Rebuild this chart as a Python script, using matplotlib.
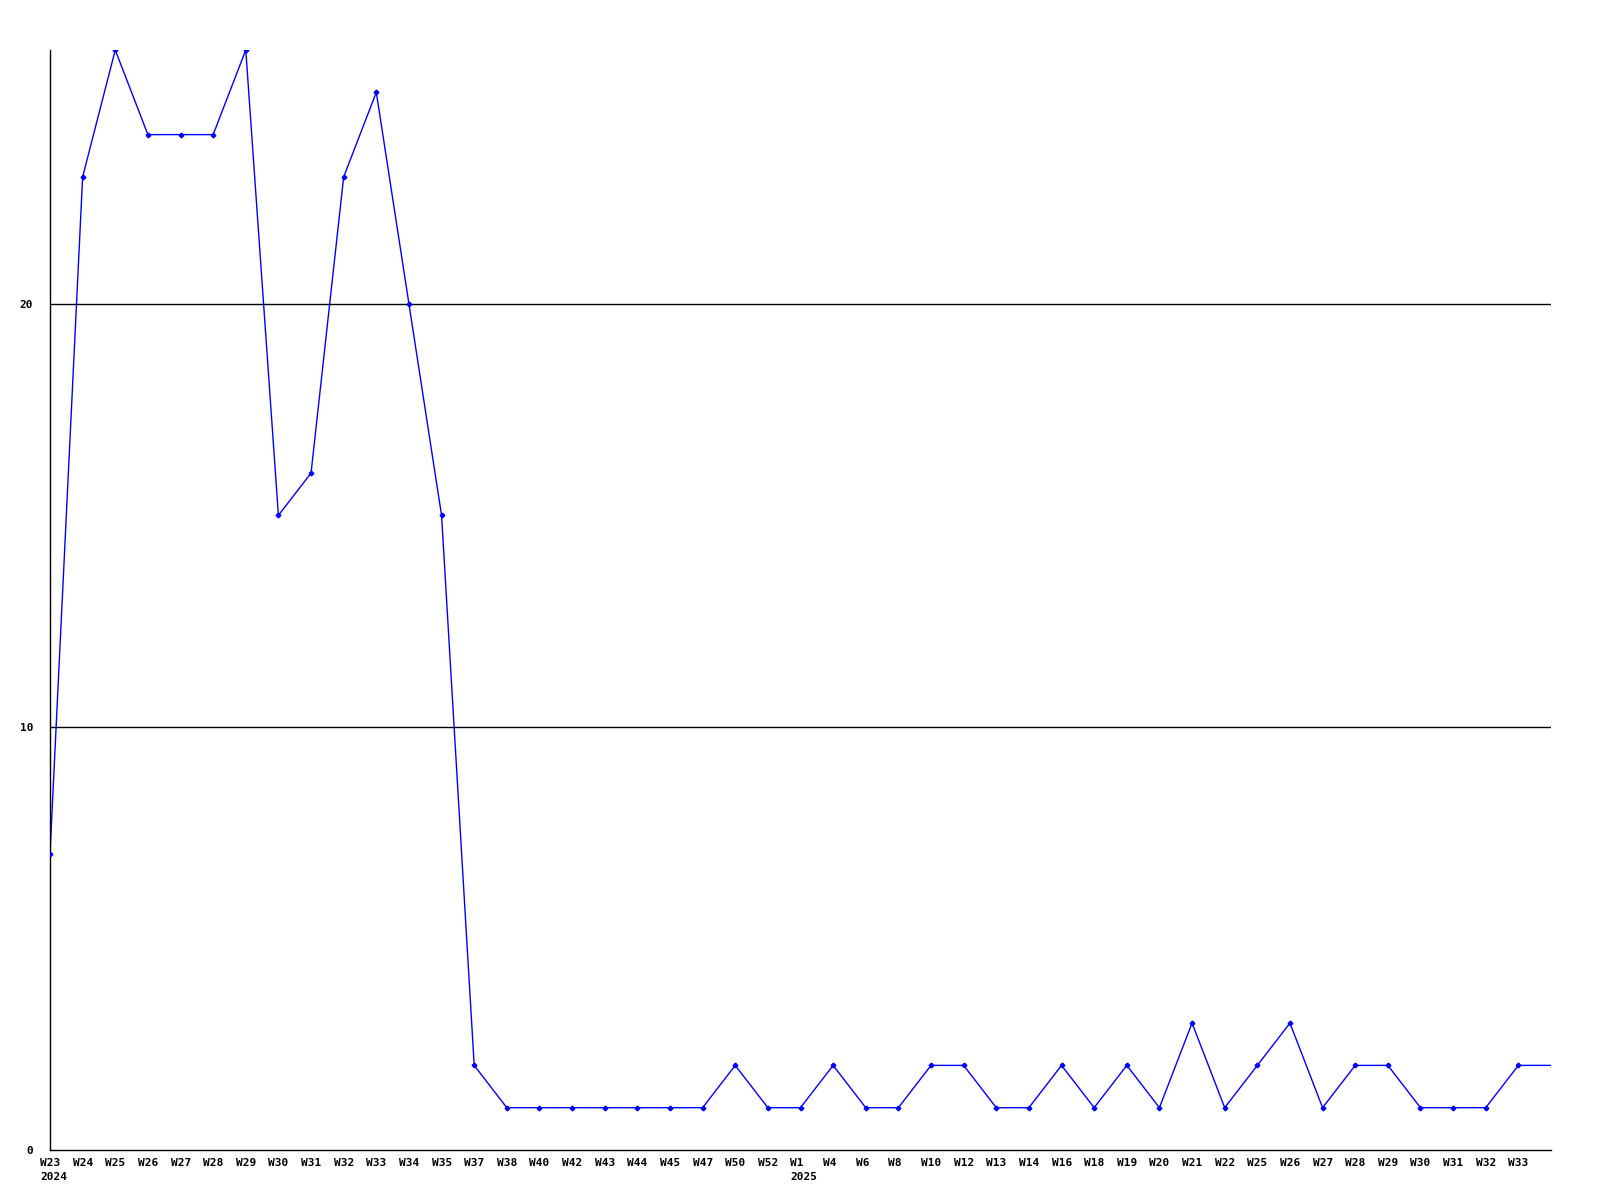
'''
weekly counts line chart
'''
import matplotlib
matplotlib.use('Agg')
import matplotlib.pyplot as plt
import matplotlib.transforms as mtransforms

weeks = ['W23', 'W24', 'W25', 'W26', 'W27', 'W28', 'W29', 'W30', 'W31', 'W32',
         'W33', 'W34', 'W35', 'W37', 'W38', 'W40', 'W42', 'W43', 'W44', 'W45',
         'W47', 'W50', 'W52', 'W1', 'W4', 'W6', 'W8', 'W10', 'W12', 'W13',
         'W14', 'W16', 'W18', 'W19', 'W20', 'W21', 'W22', 'W25', 'W26', 'W27',
         'W28', 'W29', 'W30', 'W31', 'W32', 'W33']
years = {0: '2024', 23: '2025'}
values = [7, 23, 26, 24, 24, 24, 26, 15, 16, 23,
          25, 20, 15, 2, 1, 1, 1, 1, 1, 1,
          1, 2, 1, 1, 2, 1, 1, 2, 2, 1,
          1, 2, 1, 2, 1, 3, 1, 2, 3, 1,
          2, 2, 1, 1, 1, 2]
last_value = 2  # current week, runs to the right edge with no marker


def main():
    ''' the main module '''
    plt.rcParams['font.family'] = ['DejaVu Sans Mono']
    fig = plt.figure(figsize=(16, 12), dpi=100)
    ax = fig.add_axes([50 / 1600, 50 / 1200, 1501 / 1600, 1100 / 1200])

    for y in [10, 20]:
        ax.axhline(y, color='black', lw=1, zorder=1)

    xs = list(range(len(values)))
    ax.plot(xs + [len(values)], values + [last_value], color='#0000ff', lw=1, zorder=2)
    ax.plot(xs, values, ls='none', marker='P', ms=3, color='#0000ff', zorder=3)

    ax.set_xlim(0, len(values))
    ax.set_ylim(0, 26)

    # week labels, left aligned a little before each point
    ax.set_xticks(xs)
    ax.set_xticklabels([''] * len(xs))
    base = mtransforms.blended_transform_factory(ax.transData, ax.transAxes)
    shift = mtransforms.ScaledTranslation(-10 / 100, -8 / 100, fig.dpi_scale_trans)
    for i, w in enumerate(weeks):
        lab = w + '\n' + years[i] if i in years else w
        ax.text(i, 0, lab, transform=base + shift, ha='left', va='top',
                fontsize=8, fontweight='bold', linespacing=1.5, clip_on=False)

    ax.set_yticks([0, 10, 20])
    ax.set_yticklabels(['0', '10', '20'], fontsize=8, fontweight='bold')
    ax.tick_params(axis='y', length=0, pad=12)
    ax.tick_params(axis='x', length=0)

    for s in ['top', 'right']:
        ax.spines[s].set_visible(False)
    for s in ['left', 'bottom']:
        ax.spines[s].set_linewidth(1)
        ax.spines[s].set_color('black')

    fig.savefig('out.png', dpi=100)


if __name__ == '__main__':
    main()
